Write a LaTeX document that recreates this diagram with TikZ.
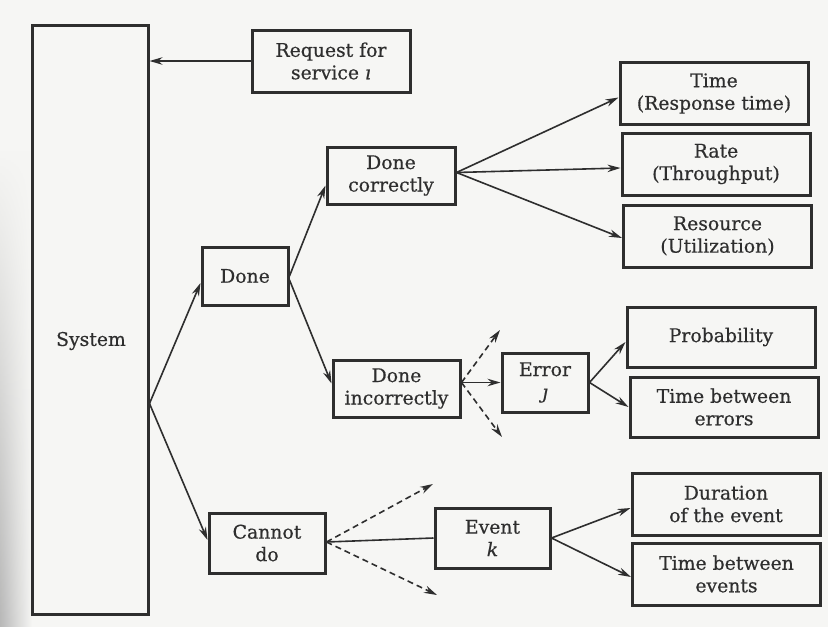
\documentclass[tikz,border=0pt]{standalone}
\usepackage{fontspec}
\setmainfont{DejaVu Serif}[FakeBold=0.5]
\usetikzlibrary{arrows.meta,fadings}
\definecolor{ink}{HTML}{2E2E2E}
\definecolor{paper}{HTML}{F6F6F4}
\newcommand{\boxfont}{\fontsize{18.8}{22.5}\selectfont}
\begin{document}
\begin{tikzpicture}[x=1pt, y=-1pt,
  box/.style={draw=ink, line width=3pt, align=center, inner sep=0pt,
              text=ink, font=\boxfont},
  metric/.style={box, minimum width=188pt, minimum height=62pt},
  link/.style={draw=ink, line width=1.6pt},
  arr/.style={link, -{Stealth[length=13pt, width=7.5pt]}},
  darr/.style={arr, dash pattern=on 6pt off 4pt}]

% page and the shadow along the binding
\fill[paper] (0,0) rectangle (828,627);
\shade[left color=black!28, right color=paper, path fading=north]
  (0,150) rectangle (32,627);
\useasboundingbox (0,0) rectangle (828,627);

% system column and its label
\node[box, minimum width=116pt, minimum height=589pt] (sys) at (90,319.5) {};
\node[text=ink, font=\boxfont] (systxt) at (91,341) {System};

% request
\node[box, minimum width=158pt, minimum height=62pt] (req) at (331,61)
  {Request for\\service \textit{ı}};

% outcomes
\node[box, minimum width=86pt, minimum height=58pt] (done) at (245,276) {Done};
\node[box, minimum width=128pt, minimum height=57pt] (dc) at (391,175.5) {Done\\correctly};
\node[box, minimum width=127pt, minimum height=57pt] (di) at (396.5,388.5) {Done\\incorrectly};
\node[box, minimum width=116pt, minimum height=60pt] (cd) at (267,543) {Cannot\\do};
\node[box, minimum width=86pt, minimum height=59pt] (err) at (545,382.5) {Error\\\textit{ȷ}};
\node[box, minimum width=115pt, minimum height=60pt] (evt) at (492.5,538) {Event\\\textit{k}};

% metrics
\node[metric] (time) at (714,93.5) {Time\\(Response time)};
\node[metric] (rate) at (716,164) {Rate\\(Throughput)};
\node[metric] (res) at (717.5,236) {Resource\\(Utilization)};
\node[metric, minimum height=60pt] (prob) at (721,337) {Probability};
\node[metric, minimum height=60pt] (tbe) at (724,407) {Time between\\errors};
\node[metric] (dur) at (726,504) {Duration\\of the event};
\node[metric] (tbev) at (726.5,574) {Time between\\events};

% free ends of the dashed alternatives
\coordinate (diup) at (500,330);
\coordinate (didn) at (502,437);
\coordinate (cdup) at (433,484);
\coordinate (cddn) at (437,595);

% connectors
\draw[arr] (req.west) -- (sys.east |- req.west);
\coordinate (sysout) at ([yshift=-84pt]sys.east);
\draw[arr] (sysout) -- ([yshift=-7pt]done.west);
\draw[arr] (sysout) -- ([yshift=3pt]cd.west);

\draw[arr] (done.east) -- ([yshift=-10pt]dc.west);
\draw[arr] ([yshift=-4pt]done.east) -- ([yshift=5pt]di.west);

\coordinate (dcout) at ([yshift=3pt]dc.east);
\draw[arr] (dcout) -- ([yshift=-4pt]time.west);
\draw[arr] (dcout) -- ([yshift=-4pt]rate.west);
\draw[arr] (dcout) -- ([yshift=-2pt]res.west);

\coordinate (diout) at (di.east |- err.west);
\draw[arr] (diout) -- (err.west);
\draw[darr] (diout) -- (diup);
\draw[darr] (diout) -- (didn);

\draw[arr] (err.east) -- ([yshift=-5pt]prob.west);
\draw[arr] (err.east) -- (tbe.west);

\coordinate (cdout) at ([yshift=1pt]cd.east);
\draw[link] (cdout) -- (evt.west);
\draw[darr] (cdout) -- (cdup);
\draw[darr] (cdout) -- (cddn);

\draw[arr] (evt.east) -- ([yshift=-4pt]dur.west);
\draw[arr] (evt.east) -- ([yshift=-3pt]tbev.west);
\end{tikzpicture}
\end{document}
